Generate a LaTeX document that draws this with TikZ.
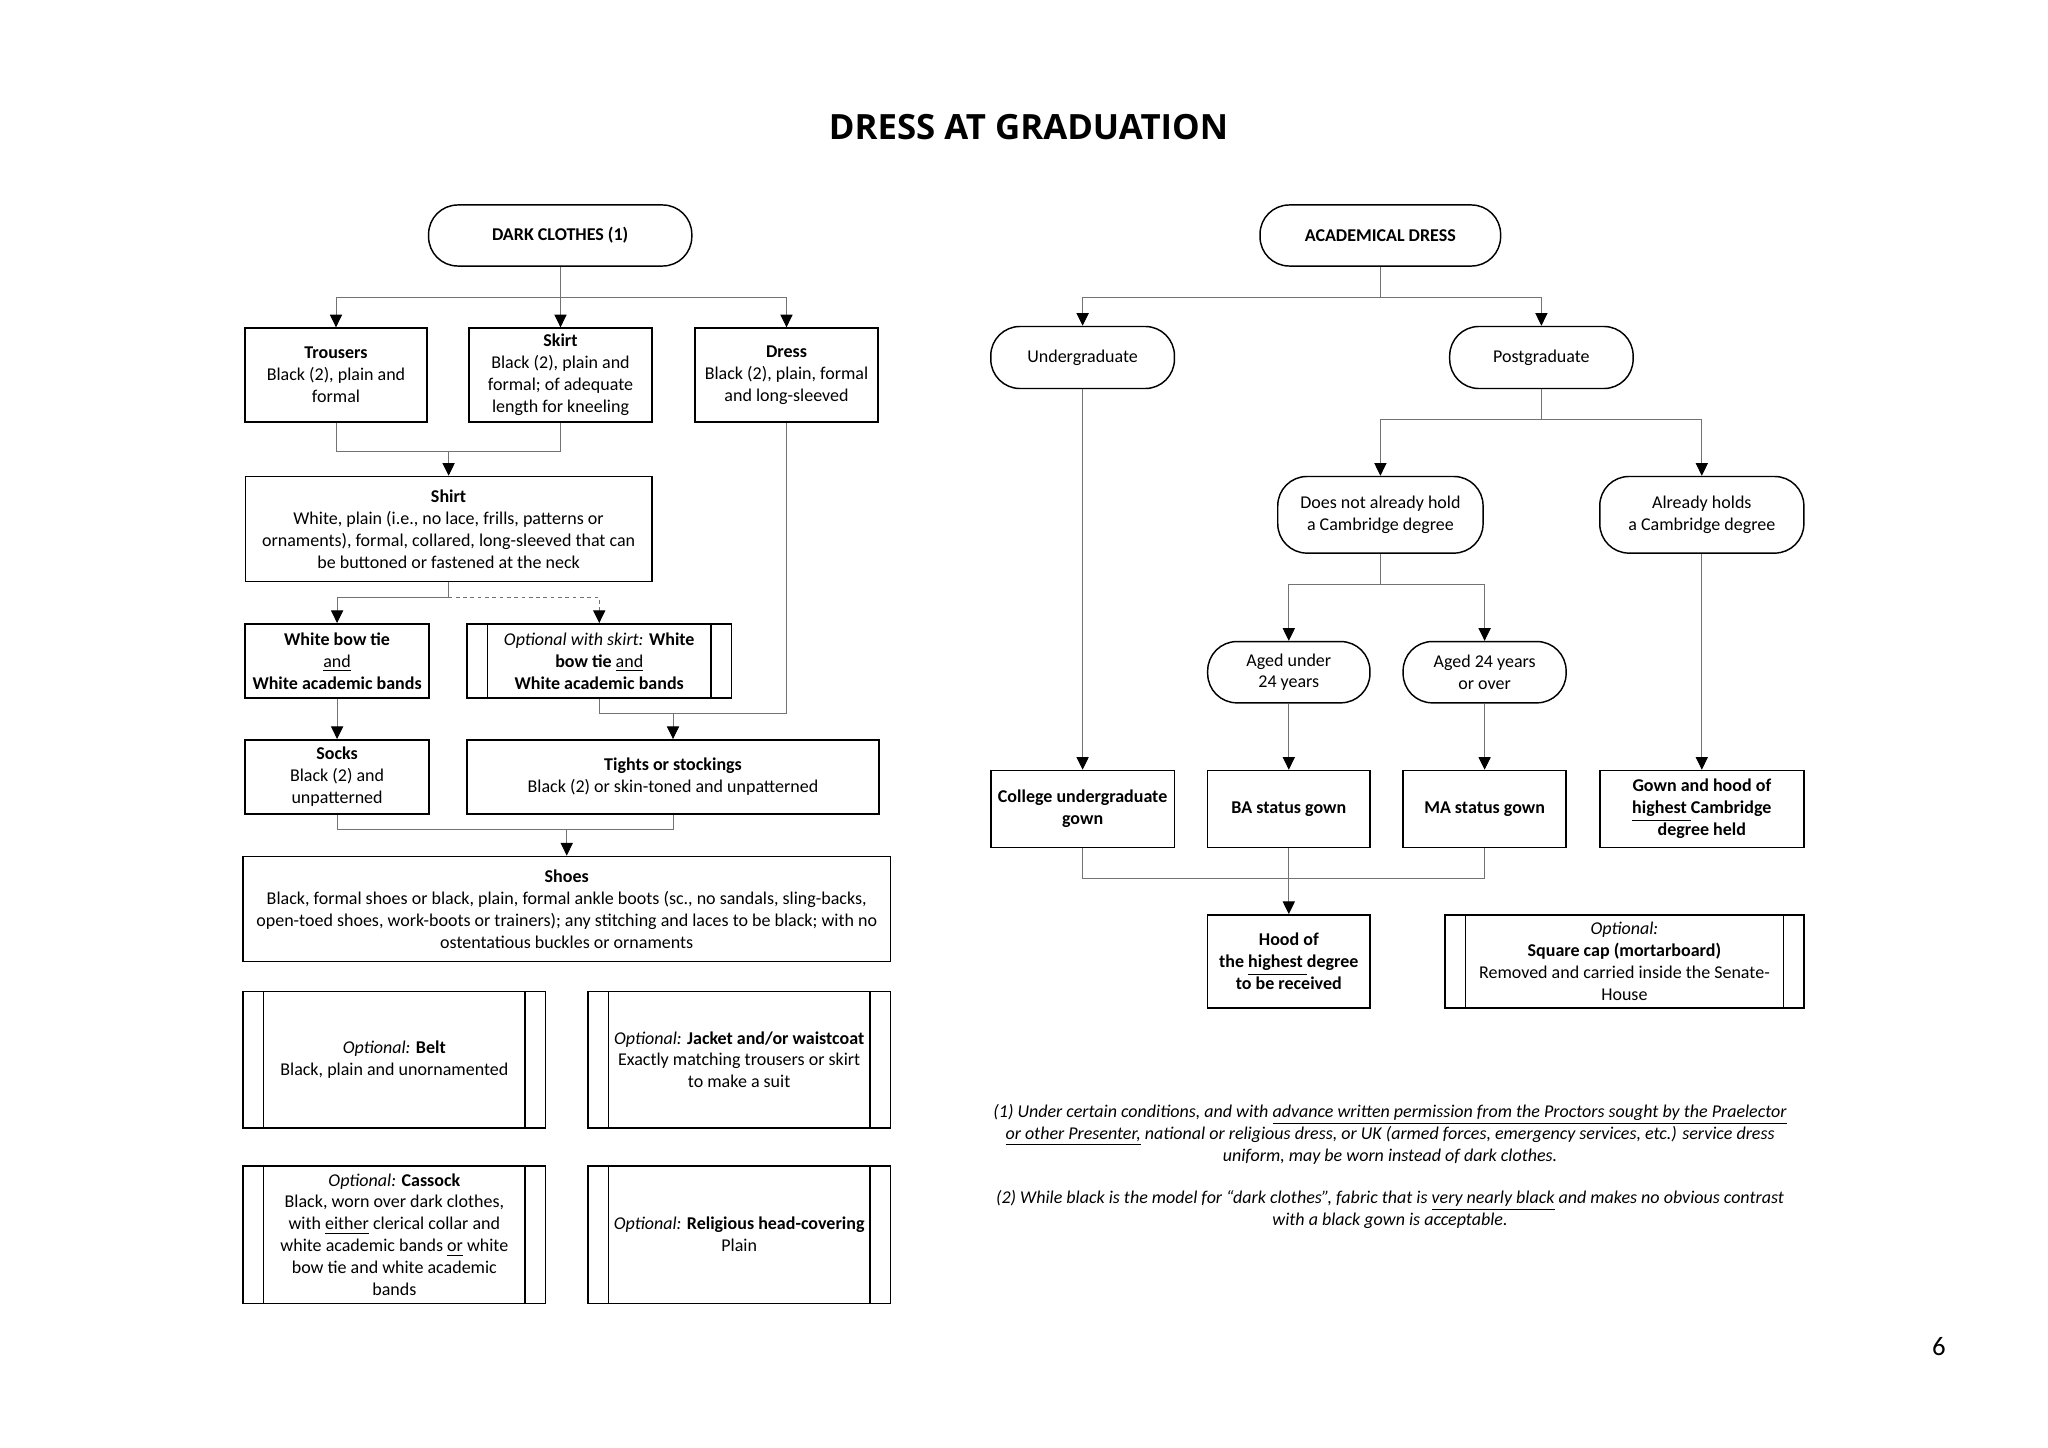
\documentclass[tikz,border=0pt]{standalone}
\usepackage{fontspec}
\setmainfont{Carlito}
\newfontfamily\titlefont{Open Sans}
\usetikzlibrary{arrows.meta,positioning,calc}
\tikzstyle{box} = [draw, rectangle, line width=0.6pt, align=center, inner xsep=2pt, inner ysep=1pt, font=\fontsize{7.4}{9}\selectfont]
\tikzstyle{pill} = [box, rounded corners=12pt]
\tikzstyle{optbox} = [box, path picture={
    \draw[line width=0.6pt] ([xshift=8.4pt]path picture bounding box.north west) -- ([xshift=8.4pt]path picture bounding box.south west)
        ([xshift=-8.4pt]path picture bounding box.north east) -- ([xshift=-8.4pt]path picture bounding box.south east);}]
\tikzstyle{link} = [draw, black!55, line width=0.4pt]
\tikzstyle{flow} = [link, -{Triangle[length=5.2pt,width=5pt,color=black]}]
\tikzstyle{note} = [align=center, font=\itshape\fontsize{7.4}{9}\selectfont]

\begin{document}
\begin{tikzpicture}[x=0.4111pt, y=-0.4111pt]
    \fill[white] (0,0) rectangle (2048,1448);
    \useasboundingbox (0,0) rectangle (2048,1448);

    % Title
    \node[anchor=base, font=\titlefont\bfseries\fontsize{14.3}{16}\selectfont] (title) at (1028.5,140) {DRESS AT GRADUATION};

    % Dark clothes
    \node[pill, minimum width=108.2pt, minimum height=25.1pt] (dark) at (560.2,235.5) {\textbf{DARK CLOTHES (1)}};
    \node[box, minimum width=74.8pt, minimum height=38.6pt] (trousers) at (336,375) {\textbf{Trousers}\\Black (2), plain and\\formal};
    \node[box, minimum width=75.2pt, minimum height=38.6pt] (skirt) at (560.5,375) {\textbf{Skirt}\\Black (2), plain and\\formal; of adequate\\length for kneeling};
    \node[box, minimum width=75.4pt, minimum height=38.6pt] (dress) at (786.5,375) {\textbf{Dress}\\Black (2), plain, formal\\and long-sleeved};
    \node[box, minimum width=167.2pt, minimum height=43.2pt] (shirt) at (448.6,529) {\textbf{Shirt}\\White, plain (i.e., no lace, frills, patterns or\\ornaments), formal, collared, long-sleeved that can\\be buttoned or fastened at the neck};
    \node[box, minimum width=75.6pt, minimum height=30.6pt] (bowtie) at (337.1,661) {\textbf{White bow tie}\\\underline{and}\\\textbf{White academic bands}};
    \node[optbox, minimum width=108.6pt, minimum height=30.6pt] (optskirt) at (599.25,661) {\textit{Optional with skirt:} \textbf{White}\\\textbf{bow tie} \underline{and}\\\textbf{White academic bands}};
    \node[box, minimum width=75.6pt, minimum height=30.6pt] (socks) at (337.1,777) {\textbf{Socks}\\Black (2) and\\unpatterned};
    \node[box, minimum width=169.2pt, minimum height=30.6pt] (tights) at (673,777) {\textbf{Tights or stockings}\\Black (2) or skin-toned and unpatterned};
    \node[box, minimum width=266.2pt, minimum height=43.3pt] (shoes) at (566.75,909) {\textbf{Shoes}\\Black, formal shoes or black, plain, formal ankle boots (sc., no sandals, sling-backs,\\open-toed shoes, work-boots or trainers); any stitching and laces to be black; with no\\ostentatious buckles or ornaments};

    % Optional extras
    \node[optbox, minimum width=124.4pt, minimum height=56.3pt] (belt) at (394.35,1059.7) {\textit{Optional:} \textbf{Belt}\\Black, plain and unornamented};
    \node[optbox, minimum width=124.4pt, minimum height=56.3pt] (jacket) at (739.15,1059.7) {\textit{Optional:} \textbf{Jacket and/or waistcoat}\\Exactly matching trousers or skirt\\to make a suit};
    \node[optbox, minimum width=124.4pt, minimum height=56.5pt] (cassock) at (394.35,1234.5) {\textit{Optional:} \textbf{Cassock}\\Black, worn over dark clothes,\\with \underline{either} clerical collar and\\white academic bands \underline{or} white\\bow tie and white academic\\bands};
    \node[optbox, minimum width=124.4pt, minimum height=56.5pt] (religious) at (739.15,1234.5) {\textit{Optional:} \textbf{Religious head-covering}\\Plain};

    % Academical dress
    \node[pill, minimum width=98.9pt, minimum height=25.1pt] (acad) at (1380.3,235.5) {\textbf{ACADEMICAL DRESS}};
    \node[pill, minimum width=75.5pt, minimum height=25.5pt] (undergrad) at (1082.6,357.5) {Undergraduate};
    \node[pill, minimum width=75.4pt, minimum height=25.5pt] (postgrad) at (1541.4,357.5) {Postgraduate};
    \node[pill, minimum width=84.4pt, minimum height=31.5pt] (doesnot) at (1380.4,514.8) {Does not already hold\\a Cambridge degree};
    \node[pill, minimum width=83.9pt, minimum height=31.5pt] (already) at (1701.8,514.8) {Already holds\\a Cambridge degree};
    \node[pill, minimum width=66.7pt, minimum height=25.2pt] (under24) at (1288.8,672.2) {Aged under\\24 years};
    \node[pill, minimum width=67pt, minimum height=25.2pt] (over24) at (1484.6,672.2) {Aged 24 years\\or over};
    \node[box, minimum width=75.5pt, minimum height=31.7pt] (college) at (1082.6,809) {\textbf{College undergraduate}\\\textbf{gown}};
    \node[box, minimum width=66.7pt, minimum height=31.7pt] (ba) at (1288.8,809) {\textbf{BA status gown}};
    \node[box, minimum width=67pt, minimum height=31.7pt] (ma) at (1484.6,809) {\textbf{MA status gown}};
    \node[box, minimum width=83.9pt, minimum height=31.7pt] (gownhood) at (1701.8,809) {\textbf{Gown and hood of}\\\textbf{\underline{highest }Cambridge}\\\textbf{degree held}};
    \node[box, minimum width=66.7pt, minimum height=38.4pt] (hood) at (1288.8,961.5) {\textbf{Hood of}\\\textbf{the \underline{highest }degree}\\\textbf{to be received}};
    \node[optbox, minimum width=147.5pt, minimum height=38.4pt] (cap) at (1624.4,961.5) {\textit{Optional:}\\\textbf{Square cap (mortarboard)}\\Removed and carried inside the Senate-\\House};

    % Notes
    \node[note] (note1) at (1390,1134) {(1) Under certain conditions, and with \underline{advance written permission from the Proctors sought by the Praelector}\\\underline{or other Presenter,} national or religious dress, or UK (armed forces, emergency services, etc.) service dress\\uniform, may be worn instead of dark clothes.};
    \node[note] (note2) at (1390,1209.5) {(2) While black is the model for “dark clothes", fabric that is \underline{very nearly black} and makes no obvious contrast\\with a black gown is acceptable.};
    \node[font=\fontsize{11}{13}\selectfont] (page) at (1939,1347) {6};

    % Left connectors
    \coordinate (d1) at ($(dark.south)+(0,30.5)$);
    \draw[link] (dark.south) -- (d1);
    \draw[flow] (d1) -| (trousers.north);
    \draw[flow] (d1) -| (skirt.north);
    \draw[flow] (d1) -| (dress.north);
    \coordinate (d2) at ($(trousers.south)+(0,29)$);
    \draw[link] (trousers.south) -- (d2) -| (skirt.south);
    \draw[flow] (d2 -| shirt.north) -- (shirt.north);
    \coordinate (d3) at ($(shirt.south)+(0,15)$);
    \draw[link] (shirt.south) -- (d3);
    \draw[flow] (d3) -| (bowtie.north);
    \draw[flow, dash pattern=on 1.5pt off 1.5pt] (d3) -| (optskirt.north);
    \draw[flow] (bowtie.south) -- (socks.north);
    \coordinate (d4) at ($(optskirt.south)+(0,15)$);
    \draw[link] (optskirt.south) -- (d4) -| (dress.south);
    \draw[flow] (d4 -| tights.north) -- (tights.north);
    \coordinate (d5) at ($(socks.south)+(0,15)$);
    \draw[link] (socks.south) -- (d5) -| (tights.south);
    \draw[flow] (d5 -| shoes.north) -- (shoes.north);

    % Right connectors
    \coordinate (a1) at ($(acad.south)+(0,30.5)$);
    \draw[link] (acad.south) -- (a1);
    \draw[flow] (a1) -| (undergrad.north);
    \draw[flow] (a1) -| (postgrad.north);
    \coordinate (a2) at ($(postgrad.south)+(0,30)$);
    \draw[link] (postgrad.south) -- (a2);
    \draw[flow] (a2) -| (doesnot.north);
    \draw[flow] (a2) -| (already.north);
    \coordinate (a3) at ($(doesnot.south)+(0,30.6)$);
    \draw[link] (doesnot.south) -- (a3);
    \draw[flow] (a3) -| (under24.north);
    \draw[flow] (a3) -| (over24.north);
    \draw[flow] (undergrad.south) -- (college.north);
    \draw[flow] (under24.south) -- (ba.north);
    \draw[flow] (over24.south) -- (ma.north);
    \draw[flow] (already.south) -- (gownhood.north);
    \coordinate (a4) at ($(college.south)+(0,29.7)$);
    \draw[link] (college.south) -- (a4) -| (ma.south);
    \draw[flow] (ba.south) -- (hood.north);
\end{tikzpicture}
\end{document}
